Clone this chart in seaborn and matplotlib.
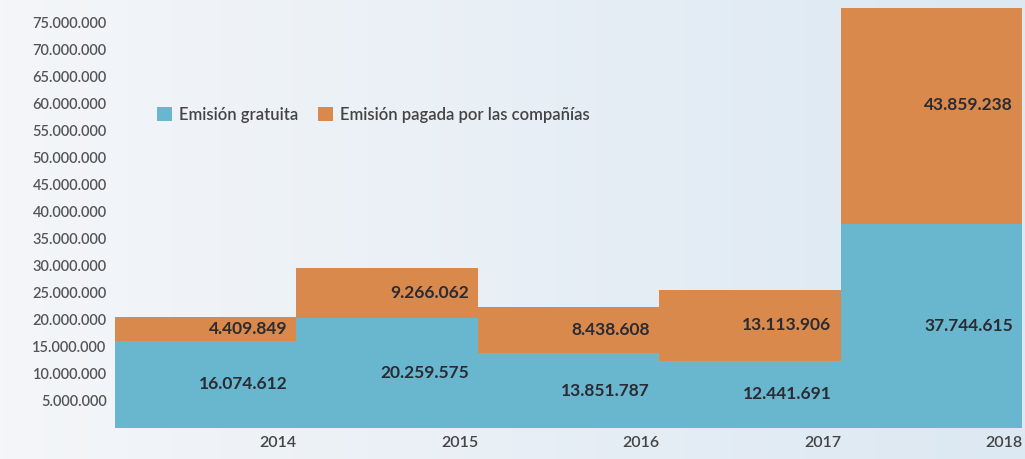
import numpy as np
import pandas as pd
import matplotlib.pyplot as plt
import seaborn as sns
from matplotlib.patches import Patch
from matplotlib.colors import LinearSegmentedColormap

# data
years = ["2014", "2015", "2016", "2017", "2018"]
gratuita = [16074612, 20259575, 13851787, 12441691, 37744615]
pagada = [4409849, 9266062, 8438608, 13113906, 43859238]

blue = "#69b6cf"
orange = "#d9894b"

df = pd.DataFrame({"year": years, "gratuita": gratuita, "pagada": pagada})
df["total"] = df["gratuita"] + df["pagada"]

def fmt(v):
    return f"{v:,}".replace(",", ".")

sns.set_style("white")
plt.rcParams["font.family"] = ["Lato", "DejaVu Sans"]

fig = plt.figure(figsize=(10.25, 4.59), dpi=100)

# soft background gradient
bg = fig.add_axes([0, 0, 1, 1], zorder=-5)
grad = np.linspace(0, 1, 256).reshape(1, -1)
cmap = LinearSegmentedColormap.from_list("bg", ["#f4f6f9", "#dce8f2"])
bg.imshow(grad, aspect="auto", cmap=cmap, extent=[0, 1, 0, 1])
bg.axis("off")

ax = fig.add_axes([115 / 1025, 1 - 428 / 459, 907 / 1025, 420 / 459])
ax.patch.set_alpha(0)

# stacked step blocks: total in orange, gratuita on top in blue
sns.barplot(data=df, x="year", y="total", color=orange, width=1.0,
            saturation=1, linewidth=0, ax=ax)
sns.barplot(data=df, x="year", y="gratuita", color=blue, width=1.0,
            saturation=1, linewidth=0, ax=ax)

ax.set_xlim(-0.5, 4.5)
ax.set_ylim(0, 77.6e6)

yt = np.arange(5, 80, 5) * 1e6
ax.set_yticks(yt)
ax.set_yticklabels([fmt(int(v)) for v in yt], fontsize=10.5,
                   color="#555555", fontweight="semibold")
ax.set_xticks(np.arange(len(years)) + 0.4)
ax.set_xticklabels(years, fontsize=11.5, color="#444444", fontweight="semibold")
ax.tick_params(axis="both", length=0)
ax.tick_params(axis="y", pad=6)
ax.tick_params(axis="x", pad=6)
ax.set_xlabel("")
ax.set_ylabel("")
sns.despine(ax=ax, left=True, bottom=True)

# value labels
for i, row in df.iterrows():
    ax.text(i + 0.45, row["gratuita"] / 2, fmt(row["gratuita"]), ha="right",
            va="center", fontsize=12.5, fontweight="bold", color="#2b2b33")
    ax.text(i + 0.45, row["gratuita"] + row["pagada"] / 2, fmt(row["pagada"]),
            ha="right", va="center", fontsize=12.5, fontweight="bold",
            color="#2b2b33")

handles = [Patch(facecolor=blue, edgecolor="none"),
           Patch(facecolor=orange, edgecolor="none")]
ax.legend(handles, ["Emisión gratuita", "Emisión pagada por las compañías"],
          loc="center left", bbox_to_anchor=(0.03, 0.745), ncol=2,
          frameon=False, fontsize=12, handlelength=0.9, handleheight=0.9,
          handletextpad=0.4, columnspacing=1.2, labelcolor="#444444",
          prop={"weight": "semibold", "size": 12})

fig.savefig("out.png", dpi=100)
